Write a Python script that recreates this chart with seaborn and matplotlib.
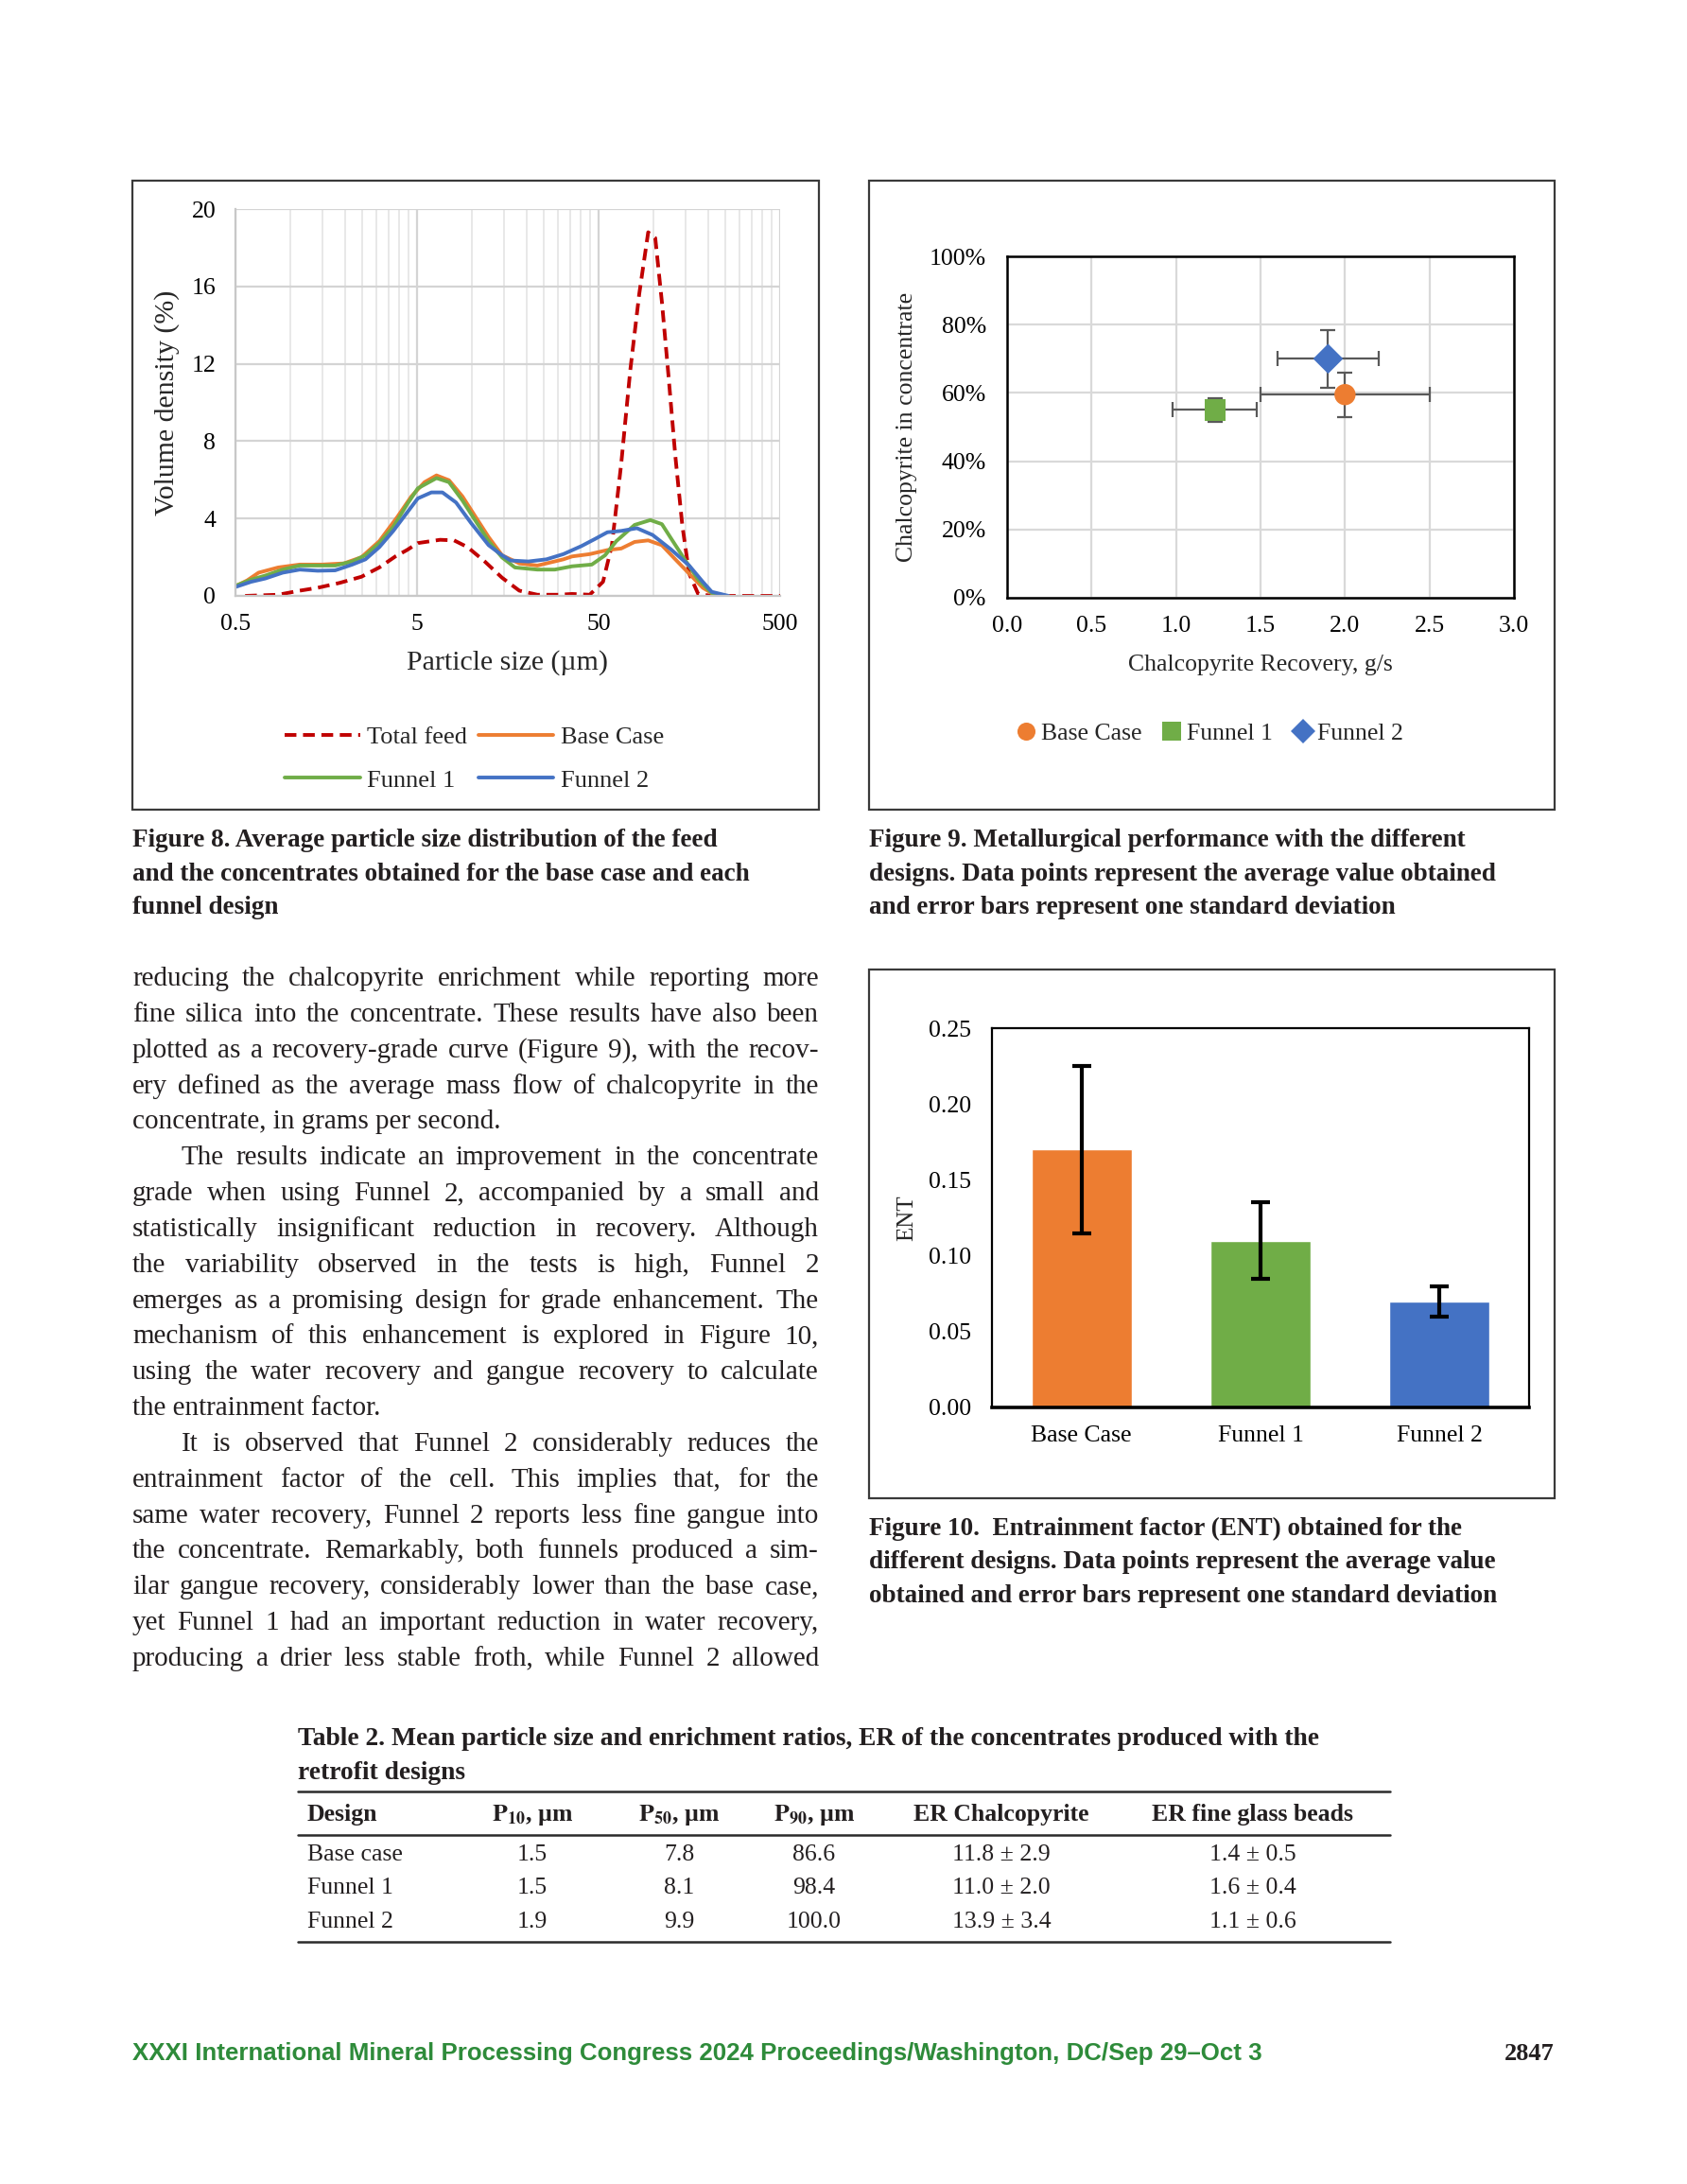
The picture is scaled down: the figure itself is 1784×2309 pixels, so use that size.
import matplotlib
matplotlib.use('Agg')
import matplotlib.pyplot as plt
import matplotlib.ticker as mticker
from matplotlib.patches import Rectangle
import seaborn as sns
import pandas as pd

sns.set_style('white')
plt.rcParams['font.family'] = ['Liberation Serif', 'DejaVu Serif']
plt.rcParams['mathtext.fontset'] = 'stix'

W, H = 1784, 2309

# ---- Figure 8: particle size distributions ----
feed_x = [0.565, 0.86, 1.13, 1.42, 1.87, 2.47, 3.1, 3.8, 4.4, 5.05, 6.7, 8.0, 9.5, 11.8, 14.7, 18.3,
          23.0, 30.2, 35.7, 44.7, 52.9, 59.2, 66.6, 74.7, 83.7, 93.8, 102.6, 111.6, 121.3, 132.3,
          144.5, 157.7, 176.8, 210, 500]
feed_y = [0, 0.06, 0.27, 0.42, 0.67, 0.99, 1.47, 2.04, 2.37, 2.73, 2.9, 2.87, 2.52, 1.78, 0.94, 0.27,
          0.06, 0.06, 0.1, 0.06, 0.73, 2.62, 6.82, 11.65, 15.6, 18.8, 18.5, 15.2, 11.4, 7.24,
          3.67, 1.15, 0.1, 0, 0]
base_x = [0.5, 0.58, 0.67, 0.86, 1.13, 1.5, 1.98, 2.47, 3.1, 3.9, 4.65, 5.5, 6.4, 7.5, 8.9, 10.5,
          12.4, 14.7, 18.3, 23, 25.8, 32, 35.7, 44.7, 55.9, 66.6, 79, 93.8, 111.6, 132.3, 157.7,
          187.4, 222.7]
base_y = [0.5, 0.8, 1.2, 1.47, 1.62, 1.62, 1.68, 2.0, 2.83, 4.09, 5.14, 5.88, 6.23, 5.98, 5.14, 4.09,
          3.04, 2.1, 1.68, 1.57, 1.68, 1.89, 2.04, 2.16, 2.37, 2.45, 2.79, 2.87, 2.62, 1.89, 1.15,
          0.42, 0]
f1_x = [0.5, 0.61, 0.73, 0.91, 1.13, 1.42, 1.77, 2.2, 2.6, 3.1, 3.7, 4.4, 5.05, 6.4, 7.5, 8.9, 10.5,
        12.4, 14.7, 17.3, 23, 28.7, 35.7, 45.9, 54.3, 62.6, 79, 96.4, 111.6, 128.2, 148.9, 176.8,
        210, 227]
f1_y = [0.52, 0.84, 1.05, 1.36, 1.57, 1.57, 1.57, 1.78, 2.1, 2.73, 3.57, 4.72, 5.56, 6.09, 5.88, 4.93,
        3.88, 2.83, 1.99, 1.47, 1.36, 1.36, 1.53, 1.62, 2.1, 2.83, 3.67, 3.92, 3.71, 2.83, 1.89, 0.84,
        0.15, 0]
f2_x = [0.5, 0.61, 0.73, 0.91, 1.13, 1.42, 1.77, 2.2, 2.6, 3.1, 3.7, 4.4, 5.05, 6.0, 6.9, 8.2, 9.9,
        12.4, 14.7, 16.4, 20.5, 25.8, 32, 40.3, 47.7, 55.9, 66.6, 81.3, 99.2, 125, 157.7, 187.4,
        210, 260]
f2_y = [0.46, 0.73, 0.9, 1.2, 1.36, 1.3, 1.32, 1.62, 1.89, 2.52, 3.36, 4.3, 5.04, 5.35, 5.35, 4.83,
        3.78, 2.62, 2.1, 1.83, 1.78, 1.89, 2.16, 2.58, 2.94, 3.29, 3.36, 3.5, 3.15, 2.41, 1.57, 0.73,
        0.21, 0]

# ---- Figure 9: recovery vs grade ----
designs = ['Base Case', 'Funnel 1', 'Funnel 2']
recovery = [2.0, 1.23, 1.9]
recovery_sd = [0.5, 0.25, 0.3]
grade = [0.595, 0.55, 0.70]
grade_sd = [0.065, 0.034, 0.084]

# ---- Figure 10: entrainment factor ----
ent = [0.17, 0.11, 0.07]
ent_sd = [0.055, 0.025, 0.01]

colors = ['#ED7D31', '#70AD47', '#4472C4']
feed_color = '#C00000'

# ---- Table 2 ----
tbl_header = ['Design', r'$\mathbf{P_{10}}$, µm', r'$\mathbf{P_{50}}$, µm', r'$\mathbf{P_{90}}$, µm',
              'ER Chalcopyrite', 'ER fine glass beads']
tbl_rows = [['Base case', '1.5', '7.8', '86.6', '11.8 ± 2.9', '1.4 ± 0.5'],
            ['Funnel 1', '1.5', '8.1', '98.4', '11.0 ± 2.0', '1.6 ± 0.4'],
            ['Funnel 2', '1.9', '9.9', '100.0', '13.9 ± 3.4', '1.1 ± 0.6']]

body = [
    ('reducing the chalcopyrite enrichment while reporting more', 0, True),
    ('fine silica into the concentrate. These results have also been', 0, True),
    ('plotted as a recovery-grade curve (Figure 9), with the recov-', 0, True),
    ('ery defined as the average mass flow of chalcopyrite in the', 0, True),
    ('concentrate, in grams per second.', 0, False),
    ('The results indicate an improvement in the concentrate', 1, True),
    ('grade when using Funnel 2, accompanied by a small and', 0, True),
    ('statistically insignificant reduction in recovery. Although', 0, True),
    ('the variability observed in the tests is high, Funnel 2', 0, True),
    ('emerges as a promising design for grade enhancement. The', 0, True),
    ('mechanism of this enhancement is explored in Figure 10,', 0, True),
    ('using the water recovery and gangue recovery to calculate', 0, True),
    ('the entrainment factor.', 0, False),
    ('It is observed that Funnel 2 considerably reduces the', 1, True),
    ('entrainment factor of the cell. This implies that, for the', 0, True),
    ('same water recovery, Funnel 2 reports less fine gangue into', 0, True),
    ('the concentrate. Remarkably, both funnels produced a sim-', 0, True),
    ('ilar gangue recovery, considerably lower than the base case,', 0, True),
    ('yet Funnel 1 had an important reduction in water recovery,', 0, True),
    ('producing a drier less stable froth, while Funnel 2 allowed', 0, True),
]

cap8 = ['Figure 8. Average particle size distribution of the feed',
        'and the concentrates obtained for the base case and each',
        'funnel design']
cap9 = ['Figure 9. Metallurgical performance with the different',
        'designs. Data points represent the average value obtained',
        'and error bars represent one standard deviation']
cap10 = ['Figure 10.  Entrainment factor (ENT) obtained for the',
         'different designs. Data points represent the average value',
         'obtained and error bars represent one standard deviation']
tbl_title = ['Table 2. Mean particle size and enrichment ratios, ER of the concentrates produced with the',
             'retrofit designs']

fig = plt.figure(figsize=(W / 100, H / 100), dpi=100)
fig.patch.set_facecolor('white')
rend = fig.canvas.get_renderer()
txt_col = '#231f20'


def axes_px(x0, y0, x1, y1):
    return fig.add_axes([x0 / W, 1 - y1 / H, (x1 - x0) / W, (y1 - y0) / H])


def ftext(x, y, s, **kw):
    return fig.text(x / W, 1 - y / H, s, **kw)


def frame(x0, y0, x1, y1):
    fig.add_artist(Rectangle((x0 / W, 1 - y1 / H), (x1 - x0) / W, (y1 - y0) / H,
                             transform=fig.transFigure, fill=False, ec='#3a3a3a', lw=1.6))


def justified(x0, x1, y, s, justify=True, **kw):
    if not justify:
        ftext(x0, y, s, va='baseline', ha='left', **kw)
        return
    words = s.split()
    ts = [ftext(0, y, w, va='baseline', ha='left', **kw) for w in words]
    widths = [t.get_window_extent(rend).width for t in ts]
    gap = (x1 - x0 - sum(widths)) / (len(words) - 1)
    x = x0
    for t, w in zip(ts, widths):
        t.set_x(x / W)
        x += w + gap


# ================= Figure 8 =================
frame(140, 191, 866, 856)
ax8 = axes_px(249, 221, 825, 630)
series8 = [('Total feed', feed_x, feed_y, feed_color, True),
           ('Base Case', base_x, base_y, colors[0], False),
           ('Funnel 1', f1_x, f1_y, colors[1], False),
           ('Funnel 2', f2_x, f2_y, colors[2], False)]
for name, xs, ys, c, dashed in series8:
    d = pd.DataFrame({'size': xs, 'density': ys})
    if dashed:
        sns.lineplot(data=d, x='size', y='density', ax=ax8, color=c, lw=2.8, label=name,
                     linestyle=(0, (3.2, 1.8)), estimator=None, sort=False)
    else:
        sns.lineplot(data=d, x='size', y='density', ax=ax8, color=c, lw=2.8, label=name,
                     estimator=None, sort=False)
ax8.set_xscale('log')
ax8.set_xlim(0.5, 500)
ax8.set_ylim(0, 20)
ax8.xaxis.set_major_locator(mticker.FixedLocator([0.5, 5, 50, 500]))
ax8.xaxis.set_major_formatter(mticker.FixedFormatter(['0.5', '5', '50', '500']))
ax8.xaxis.set_minor_locator(mticker.FixedLocator(
    [k * 0.5 * 10 ** n for n in range(3) for k in range(2, 10)]))
ax8.xaxis.set_minor_formatter(mticker.NullFormatter())
ax8.set_yticks([0, 4, 8, 12, 16, 20])
ax8.grid(True, which='major', color='#d4d4d4', lw=1.6)
ax8.grid(True, which='minor', axis='x', color='#e2e2e2', lw=1.1)
ax8.set_axisbelow(True)
for sp in ['top', 'right']:
    ax8.spines[sp].set_visible(False)
for sp in ['left', 'bottom']:
    ax8.spines[sp].set_color('#c8c8c8')
    ax8.spines[sp].set_linewidth(1.6)
ax8.tick_params(axis='both', which='both', length=0, labelsize=18.5, colors='black')
ax8.tick_params(axis='y', pad=15)
ax8.tick_params(axis='x', pad=14)
ax8.set_xlabel('Particle size (µm)', fontsize=21.5)
ax8.set_ylabel('Volume density (%)', fontsize=21.5)
ax8.xaxis.set_label_coords(0.5, (630 - 701) / (630 - 221))
ax8.xaxis.label.set_va('center')
ax8.yaxis.set_label_coords((177 - 249) / (825 - 249), 0.5)
ax8.yaxis.label.set_va('center')
h, l = ax8.get_legend_handles_labels()
order = [0, 2, 1, 3]
ax8.legend([h[i] for i in order], [l[i] for i in order], ncol=2, loc='center',
           bbox_to_anchor=(502 / W, 1 - 802 / H), bbox_transform=fig.transFigure,
           frameon=False, fontsize=19, handlelength=3.0, handletextpad=0.3,
           columnspacing=0.45, labelspacing=0.85)

# ================= Figure 9 =================
frame(919, 191, 1644, 856)
ax9 = axes_px(1065, 271, 1601, 632)
ax9.errorbar(recovery, grade, xerr=recovery_sd, yerr=grade_sd, fmt='none', ecolor='#595959',
             elinewidth=1.6, capsize=6, capthick=1.6, zorder=2)
d9 = pd.DataFrame({'Design': designs, 'Recovery': recovery, 'Grade': grade})
sns.scatterplot(data=d9, x='Recovery', y='Grade', hue='Design', style='Design',
                palette=dict(zip(designs, colors)),
                markers={'Base Case': 'o', 'Funnel 1': 's', 'Funnel 2': 'D'},
                s=260, linewidth=0, ax=ax9, zorder=3)
ax9.set_xlim(0, 3)
ax9.set_ylim(0, 1)
ax9.set_xticks([0, 0.5, 1.0, 1.5, 2.0, 2.5, 3.0])
ax9.xaxis.set_major_formatter(mticker.FormatStrFormatter('%.1f'))
ax9.set_yticks([0, 0.2, 0.4, 0.6, 0.8, 1.0])
ax9.yaxis.set_major_formatter(mticker.PercentFormatter(1.0, decimals=0))
ax9.grid(True, color='#d9d9d9', lw=1.6)
ax9.set_axisbelow(True)
for sp in ax9.spines.values():
    sp.set_color('black')
    sp.set_linewidth(1.8)
ax9.tick_params(axis='both', length=0, labelsize=18.5, colors='black')
ax9.tick_params(axis='y', pad=16)
ax9.tick_params(axis='x', pad=14)
ax9.set_xlabel('Chalcopyrite Recovery, g/s', fontsize=18.5)
ax9.set_ylabel('Chalcopyrite in concentrate', fontsize=18.5)
ax9.xaxis.set_label_coords(0.5, (632 - 703) / (632 - 271))
ax9.xaxis.label.set_va('center')
ax9.yaxis.set_label_coords((959 - 1065) / (1601 - 1065), 0.5)
ax9.yaxis.label.set_va('center')
h9, l9 = ax9.get_legend_handles_labels()
ax9.legend(h9, l9, ncol=3, loc='center', bbox_to_anchor=(1280 / W, 1 - 776 / H),
           bbox_transform=fig.transFigure, frameon=False, fontsize=18.5, markerscale=0.85,
           handlelength=0.7, handletextpad=0.25, columnspacing=0.9)

# ================= Figure 10 =================
frame(919, 1025, 1644, 1584)
ax10 = axes_px(1049, 1087, 1617, 1488)
d10 = pd.DataFrame({'Design': designs, 'ENT': ent})
sns.barplot(data=d10, x='Design', y='ENT', hue='Design', palette=colors, width=0.56,
            legend=False, ax=ax10, saturation=1)
ax10.errorbar(range(len(designs)), ent, yerr=ent_sd, fmt='none', ecolor='black',
              elinewidth=3, capsize=7, capthick=3, zorder=3)
ax10.set_xlim(-0.5, 2.5)
ax10.set_ylim(0, 0.25)
ax10.set_yticks([0, 0.05, 0.10, 0.15, 0.20, 0.25])
ax10.yaxis.set_major_formatter(mticker.FormatStrFormatter('%.2f'))
for sp in ax10.spines.values():
    sp.set_color('black')
    sp.set_linewidth(1.6)
ax10.spines['bottom'].set_linewidth(2.6)
ax10.tick_params(axis='both', length=0, labelsize=18.5, colors='black')
ax10.tick_params(axis='y', pad=16)
ax10.tick_params(axis='x', pad=14)
ax10.set_xlabel('')
ax10.set_ylabel('ENT', fontsize=18)
ax10.yaxis.set_label_coords((959 - 1049) / (1617 - 1049), 0.5)
ax10.yaxis.label.set_va('center')

# ================= Captions =================
cap_fs = 19.5
for i, s in enumerate(cap8):
    ftext(140, 895 + i * 35.5, s, va='baseline', ha='left', fontsize=cap_fs,
          fontweight='bold', color=txt_col)
for i, s in enumerate(cap9):
    ftext(919, 895 + i * 35.5, s, va='baseline', ha='left', fontsize=cap_fs,
          fontweight='bold', color=txt_col)
for i, s in enumerate(cap10):
    ftext(919, 1623 + i * 35.5, s, va='baseline', ha='left', fontsize=cap_fs,
          fontweight='bold', color=txt_col)

# ================= Body text =================
for i, (s, indent, just) in enumerate(body):
    y = 1042 + i * 37.84
    x0 = 191.5 if indent else 140
    justified(x0, 866, y, s, justify=just, fontsize=21, color=txt_col)

# ================= Table 2 =================
for i, s in enumerate(tbl_title):
    ftext(315, 1845 + i * 36, s, va='baseline', ha='left', fontsize=19.8,
          fontweight='bold', color=txt_col)
for yy in [1894, 1940, 2053]:
    fig.add_artist(plt.Line2D([315 / W, 1470 / W], [1 - yy / H, 1 - yy / H],
                              transform=fig.transFigure, color='#2b2b2b', lw=1.8))
col_x = [325, 563, 718, 861, 1059, 1325]
for j, s in enumerate(tbl_header):
    ftext(col_x[j], 1925, s, va='baseline', ha='left' if j == 0 else 'center',
          fontsize=18.5, fontweight='bold', color=txt_col)
for r, row in enumerate(tbl_rows):
    for j, s in enumerate(row):
        ftext(col_x[j], 1967 + r * 35.5, s, va='baseline', ha='left' if j == 0 else 'center',
              fontsize=18.5, color=txt_col)

# ================= Footer =================
ftext(140, 2171, 'XXXI International Mineral Processing Congress 2024 Proceedings/Washington, DC/Sep 29–Oct 3',
      va='center', ha='left', fontsize=18.6, fontweight='bold', color='#2e8b3a',
      family=['Liberation Sans', 'DejaVu Sans'])
ftext(1644, 2171, '2847', va='center', ha='right', fontsize=19, fontweight='bold', color=txt_col)

fig.savefig('out.png', dpi=100, facecolor='white')
